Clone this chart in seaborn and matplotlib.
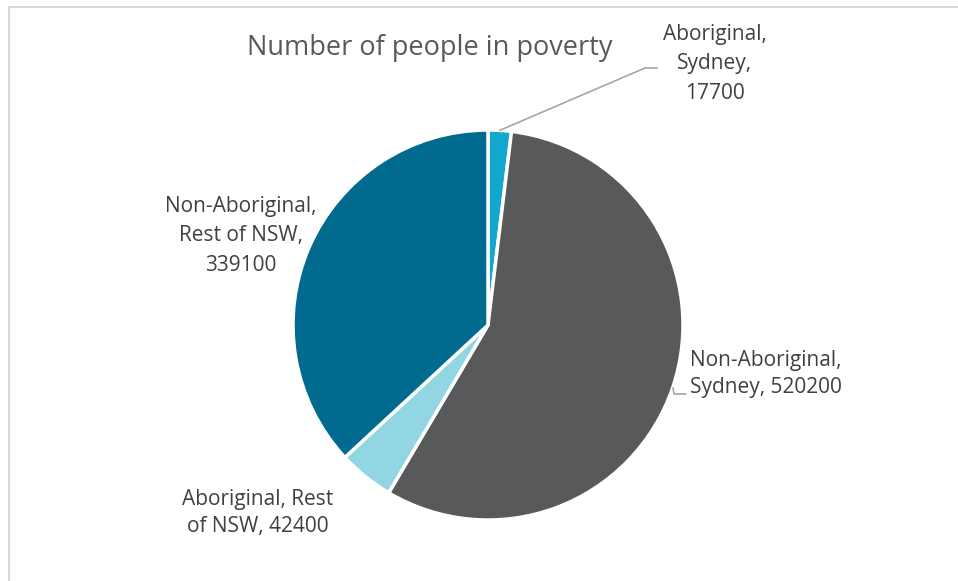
import numpy as np
import matplotlib
matplotlib.use("Agg")
import matplotlib.pyplot as plt
import seaborn as sns
from matplotlib.patches import Rectangle
from matplotlib.lines import Line2D

categories = ["Aboriginal, Sydney", "Non-Aboriginal, Sydney",
              "Aboriginal, Rest of NSW", "Non-Aboriginal, Rest of NSW"]
values = [17700, 520200, 42400, 339100]
colors = ["#12A8CD", "#58595B", "#93D6E3", "#006B8F"]
label_texts = ["Aboriginal,\nSydney,\n17700",
               "Non-Aboriginal,\nSydney, 520200",
               "Aboriginal, Rest\nof NSW, 42400",
               "Non-Aboriginal,\nRest of NSW,\n339100"]
title = "Number of people in poverty"

sns.set_theme(style="white")
plt.rcParams['font.family'] = ['Open Sans', 'DejaVu Sans']

W, H = 958, 581
fig = plt.figure(figsize=(W / 100, H / 100), dpi=100)
fig.patch.set_facecolor("white")

# chart frame
fig.add_artist(Rectangle((8.5 / W, -0.05), 1.0, (H - 6.5) / H + 0.05,
                         transform=fig.transFigure, fill=False,
                         edgecolor="#D9D9D9", linewidth=1.5))

cx, cy, r = 488, 325, 195
ax = fig.add_axes([(cx - r) / W, (H - cy - r) / H, 2 * r / W, 2 * r / H])
wedges, _ = ax.pie(values, colors=colors, startangle=90, counterclock=False,
                   wedgeprops=dict(edgecolor="white", linewidth=2.5))
ax.set_xlim(-1, 1)
ax.set_ylim(-1, 1)
ax.set_aspect("auto")
ax.axis("off")

fig.text(430 / W, 1 - 48 / H, title, ha="center", va="center",
         fontsize=19.5, color="#595959")

tc = "#404040"
fs = 15
def px(x, y):
    return x / W, 1 - y / H

# Aboriginal, Sydney label with leader line
total = sum(values)
mid = (values[0] / 2) / total * 2 * np.pi
ex, ey = np.sin(mid), np.cos(mid)
ax.annotate("", xy=(ex, ey), xycoords="data",
            xytext=px(645, 68), textcoords="figure fraction",
            arrowprops=dict(arrowstyle="-", color="#A6A6A6", lw=1.2,
                            shrinkA=0, shrinkB=0))
fig.add_artist(Line2D([645 / W, 657 / W], [1 - 68 / H, 1 - 68 / H],
                      color="#A6A6A6", lw=1.2, transform=fig.transFigure))
fig.text(*px(715, 64), label_texts[0], ha="center", va="center",
         fontsize=fs, color=tc, linespacing=1.55, multialignment="center")

# Non-Aboriginal, Sydney
fig.add_artist(Line2D([673 / W, 674 / W, 686 / W],
                      [1 - 388 / H, 1 - 394 / H, 1 - 394 / H],
                      color="#A6A6A6", lw=1.2, transform=fig.transFigure))
fig.text(*px(690, 374), label_texts[1], ha="left", va="center",
         fontsize=fs, color=tc, linespacing=1.4, multialignment="left")

# Aboriginal, Rest of NSW
fig.text(*px(258, 513), label_texts[2], ha="center", va="center",
         fontsize=fs, color=tc, linespacing=1.4, multialignment="center")

# Non-Aboriginal, Rest of NSW
fig.text(*px(241, 236), label_texts[3], ha="center", va="center",
         fontsize=fs, color=tc, linespacing=1.55, multialignment="center")

fig.savefig("out.png", dpi=100, facecolor="white")
